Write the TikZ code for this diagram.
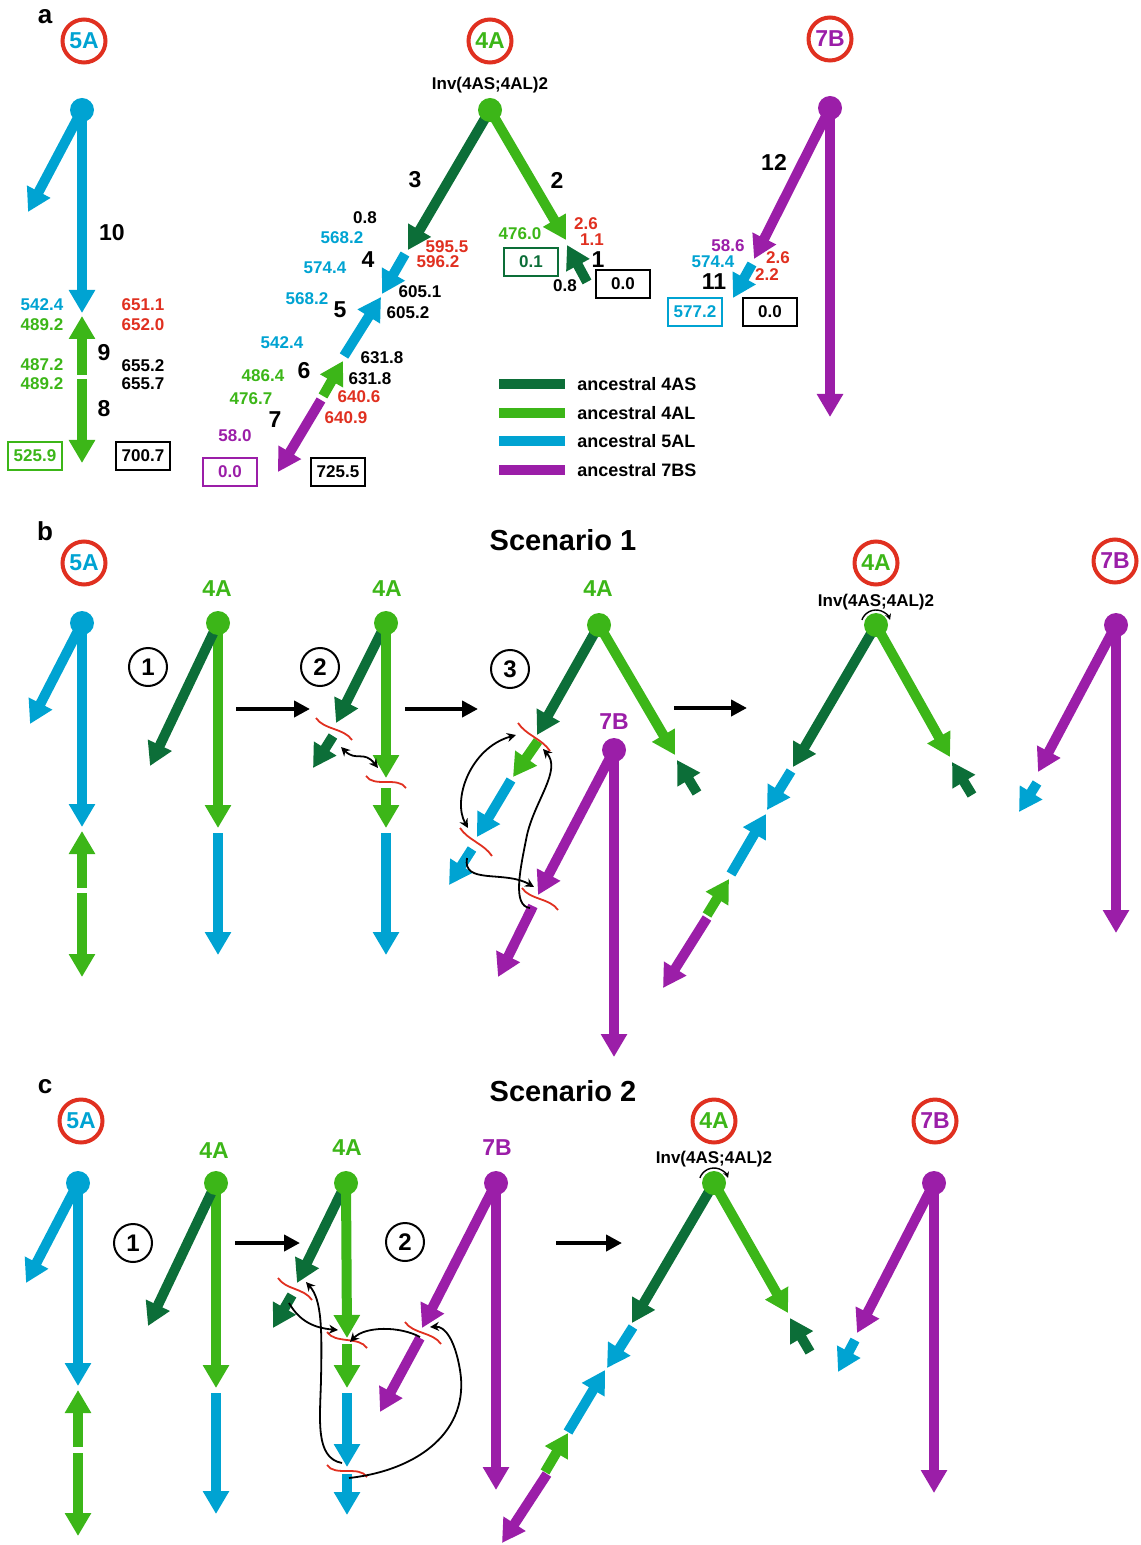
\documentclass[tikz,border=0pt]{standalone}
\usepackage{fontspec}
\setmainfont{Liberation Sans}
\usetikzlibrary{arrows.meta,shapes.geometric}
\definecolor{cAS}{RGB}{12,110,56}
\definecolor{cAL}{RGB}{60,182,24}
\definecolor{cBl}{RGB}{0,163,210}
\definecolor{cPu}{RGB}{155,30,168}
\definecolor{cRd}{RGB}{224,48,32}
\tikzset{
seg/.style = {line width=5pt, -{Triangle[width=12.5pt,length=11.5pt]}},
hub/.style = {circle, fill=#1, inner sep=0pt, minimum size=12pt},
chrom/.style = {circle, draw=cRd, line width=2pt, text=#1, inner sep=0pt, minimum size=21.5pt, font=\bfseries\fontsize{11.5}{12}\selectfont},
hdr/.style = {text=#1, inner sep=0pt, font=\bfseries\fontsize{11.5}{12}\selectfont},
num/.style = {text=#1, inner sep=0pt, font=\bfseries\fontsize{8.5}{9}\selectfont},
num/.default = black,
brn/.style = {inner sep=0pt, font=\bfseries\fontsize{11.5}{12}\selectfont},
numbox/.style = {draw=#1, text=#1, line width=0.6pt, inner sep=0pt, minimum width=27pt, minimum height=14pt, font=\bfseries\fontsize{8.5}{9}\selectfont},
numbox/.default = black,
inv/.style = {inner sep=0pt, font=\bfseries\fontsize{8.5}{9}\selectfont},
plabel/.style = {inner sep=0pt, font=\bfseries\fontsize{13}{13}\selectfont},
scen/.style = {inner sep=0pt, font=\bfseries\fontsize{14.5}{15}\selectfont},
stepno/.style = {circle, draw, line width=1pt, inner sep=0pt, minimum size=19pt, font=\bfseries\fontsize{12}{12}\selectfont},
keyline/.style = {line width=5pt},
keytxt/.style = {anchor=west, inner sep=0pt, font=\bfseries\fontsize{9}{9}\selectfont},
flow/.style = {line width=2pt, -{Triangle[width=8pt,length=8pt]}},
link/.style = {line width=0.9pt, -{Stealth[length=4.5pt,width=4.5pt]}},
link2/.style = {line width=0.9pt, {Stealth[length=4.5pt,width=4.5pt]}-{Stealth[length=4.5pt,width=4.5pt]}},
spin/.style = {line width=0.7pt, -{Stealth[length=3pt,width=3pt]}},
brk/.style = {cRd, line width=0.9pt},
}
\newcommand{\brk}[3]{\draw[brk,shift={(#1)}] (-#2,-#3) .. controls +(8,12) and +(-8,-12) .. (#2,#3);}

\begin{document}
\begin{tikzpicture}[x=0.5pt,y=-0.5pt]
\useasboundingbox (0,0) rectangle (1140,1545);

% a
\node[plabel] (la) at (45,17) {a};
\node[chrom=cBl] (c5a) at (84,41) {5A};
\coordinate (h5a) at (82,110);
\draw[seg,cBl] (h5a) -- (82,313);
\draw[seg,cBl] (h5a) -- (28,212);
\draw[seg,cAL] (82,375) -- (82,316);
\draw[seg,cAL] (82,379) -- (82,463);
\node[hub=cBl] (d5a) at (h5a) {};
\node[brn] (n10) at (112,233) {10};
\node[num=cBl] (a1) at (42,305) {542.4};
\node[num=cAL] (a2) at (42,325) {489.2};
\node[num=cRd] (a3) at (143,305) {651.1};
\node[num=cRd] (a4) at (143,325) {652.0};
\node[brn] (n9) at (104,353) {9};
\node[num=cAL] (a5) at (42,365) {487.2};
\node[num=cAL] (a6) at (42,384) {489.2};
\node[num] (a7) at (143,366) {655.2};
\node[num] (a8) at (143,384) {655.7};
\node[brn] (n8) at (104,409) {8};
\node[numbox=cAL] (b1) at (35,456) {525.9};
\node[numbox] (b2) at (143,456) {700.7};

\node[chrom=cAL] (c4a) at (490,41) {4A};
\node[inv] (inv4a) at (490,85) {Inv(4AS;4AL)2};
\coordinate (h4a) at (490,110);
\draw[seg,cAS] (h4a) -- (408,250);
\draw[seg,cAL] (h4a) -- (566,240);
\draw[seg,cAS] (587,282) -- (567,245);
\draw[seg,cBl] (405,254) -- (382,294);
\draw[seg,cBl] (344,356) -- (381,297);
\draw[seg,cAL] (323,396) -- (343,361);
\draw[seg,cPu] (321,400) -- (278,472);
\node[hub=cAL] (d4a) at (h4a) {};
\node[brn] (n3) at (415,180) {3};
\node[brn] (n2) at (557,180) {2};
\node[num] (a9) at (365,218) {0.8};
\node[num=cBl] (a10) at (342,238) {568.2};
\node[num=cRd] (a11) at (447,247) {595.5};
\node[num=cRd] (a12) at (438,262) {596.2};
\node[brn] (n4) at (368,260) {4};
\node[num=cBl] (a13) at (325,268) {574.4};
\node[num] (a14) at (420,292) {605.1};
\node[num=cBl] (a15) at (307,299) {568.2};
\node[brn] (n5) at (340,310) {5};
\node[num] (a16) at (408,313) {605.2};
\node[num=cBl] (a17) at (282,343) {542.4};
\node[num] (a18) at (382,358) {631.8};
\node[brn] (n6) at (304,371) {6};
\node[num=cAL] (a19) at (263,376) {486.4};
\node[num] (a20) at (370,379) {631.8};
\node[num=cAL] (a21) at (251,399) {476.7};
\node[num=cRd] (a22) at (359,397) {640.6};
\node[brn] (n7) at (275,420) {7};
\node[num=cRd] (a23) at (346,418) {640.9};
\node[num=cPu] (a24) at (235,436) {58.0};
\node[numbox=cPu] (b3) at (230,472) {0.0};
\node[numbox] (b4) at (338,472) {725.5};
\node[num=cAL] (a25) at (520,234) {476.0};
\node[numbox=cAS] (b5) at (531,262) {0.1};
\node[num=cRd] (a26) at (586,224) {2.6};
\node[num=cRd] (a27) at (592,240) {1.1};
\node[brn] (n1) at (598,260) {1};
\node[num] (a28) at (565,286) {0.8};
\node[numbox] (b6) at (623,284) {0.0};

\draw[keyline,cAS] (499,384) -- (565,384);
\draw[keyline,cAL] (499,413) -- (565,413);
\draw[keyline,cBl] (499,441) -- (565,441);
\draw[keyline,cPu] (499,470) -- (565,470);
\node[keytxt] (k1) at (577,384) {ancestral 4AS};
\node[keytxt] (k2) at (577,413) {ancestral 4AL};
\node[keytxt] (k3) at (577,441) {ancestral 5AL};
\node[keytxt] (k4) at (577,470) {ancestral 7BS};

\node[chrom=cPu] (c7a) at (830,39) {7B};
\coordinate (h7a) at (830,108);
\draw[seg,cPu] (h7a) -- (830,417);
\draw[seg,cPu] (h7a) -- (754,259);
\draw[seg,cBl] (752,264) -- (733,298);
\node[hub=cPu] (d7a) at (h7a) {};
\node[brn] (n12) at (774,162) {12};
\node[num=cPu] (a29) at (728,246) {58.6};
\node[num=cBl] (a30) at (713,262) {574.4};
\node[num=cRd] (a31) at (778,258) {2.6};
\node[num=cRd] (a32) at (767,275) {2.2};
\node[brn] (n11) at (714,282) {11};
\node[numbox=cBl] (b7) at (695,312) {577.2};
\node[numbox] (b8) at (770,312) {0.0};

% b
\node[plabel] (lb) at (45,531) {b};
\node[scen] (s1) at (563,540) {Scenario 1};
\node[chrom=cBl] (c5b) at (84,563) {5A};
\coordinate (h5b) at (82,623);
\draw[seg,cBl] (h5b) -- (82,827);
\draw[seg,cBl] (h5b) -- (30,724);
\draw[seg,cAL] (82,888) -- (82,831);
\draw[seg,cAL] (82,893) -- (82,977);
\node[hub=cBl] (d5b) at (h5b) {};

\node[stepno] (st1b) at (148,667) {1};
\node[hdr=cAL] (t1b) at (217,589) {4A};
\coordinate (h1b) at (218,623);
\draw[seg,cAL] (h1b) -- (218,828);
\draw[seg,cAS] (h1b) -- (150,766);
\draw[seg,cBl] (218,833) -- (218,955);
\node[hub=cAL] (d1b) at (h1b) {};
\draw[flow] (236,709) -- (310,709);

\node[stepno] (st2b) at (320,667) {2};
\node[hdr=cAL] (t2b) at (387,589) {4A};
\coordinate (h2b) at (386,623);
\draw[seg,cAS] (h2b) -- (336,723);
\draw[seg,cAS] (333,736) -- (313,768);
\draw[seg,cAL] (h2b) -- (386,778);
\draw[seg,cAL] (386,788) -- (386,828);
\draw[seg,cBl] (386,833) -- (386,955);
\node[hub=cAL] (d2b) at (h2b) {};
\brk{334,729}{18}{11}
\brk{386,782}{20}{6}
\draw[link2] (341,747) .. controls (356,762) and (364,750) .. (378,768);
\draw[flow] (405,709) -- (478,709);

\node[stepno] (st3b) at (510,669) {3};
\node[hdr=cAL] (t3b) at (598,589) {4A};
\coordinate (h3b) at (599,625);
\draw[seg,cAL] (h3b) -- (675,755);
\draw[seg,cAS] (697,793) -- (677,760);
\draw[seg,cAS] (h3b) -- (537,735);
\draw[seg,cAL] (538,741) -- (513,777);
\draw[seg,cBl] (511,780) -- (477,837);
\draw[seg,cBl] (472,849) -- (449,885);
\node[hdr=cPu] (t7b) at (614,722) {7B};
\coordinate (h7b) at (614,750);
\draw[seg,cPu] (h7b) -- (614,1057);
\draw[seg,cPu] (h7b) -- (538,895);
\draw[seg,cPu] (533,906) -- (498,977);
\node[hub=cAL] (d3b) at (h3b) {};
\node[hub=cPu] (d7b) at (h7b) {};
\brk{534,737}{16}{14}
\brk{476,842}{16}{14}
\brk{540,899}{18}{11}
\draw[link2] (516,735) .. controls (470,748) and (452,800) .. (468,828);
\draw[link] (467,858) .. controls (462,885) and (505,870) .. (534,887);
\draw[link] (530,908) .. controls (512,906) and (520,870) .. (527,835) .. controls (535,800) and (562,770) .. (543,749);
\draw[flow] (674,708) -- (747,708);

\node[chrom=cAL] (c4b) at (876,563) {4A};
\node[inv] (inv4b) at (876,602) {Inv(4AS;4AL)2};
\coordinate (h4b) at (876,625);
\draw[seg,cAL] (h4b) -- (950,757);
\draw[seg,cAS] (972,795) -- (952,762);
\draw[seg,cAS] (h4b) -- (793,767);
\draw[seg,cBl] (791,771) -- (767,810);
\draw[seg,cBl] (731,874) -- (766,814);
\draw[seg,cAL] (707,915) -- (729,879);
\draw[seg,cPu] (707,918) -- (663,988);
\node[hub=cAL] (d4b) at (h4b) {};
\draw[spin] ([shift={(200:15)}]h4b) arc[start angle=200, end angle=340, radius=15];

\node[chrom=cPu] (c7b) at (1115,561) {7B};
\coordinate (h7bb) at (1116,625);
\draw[seg,cPu] (h7bb) -- (1116,933);
\draw[seg,cPu] (h7bb) -- (1038,772);
\draw[seg,cBl] (1037,783) -- (1019,812);
\node[hub=cPu] (d7bb) at (h7bb) {};

% c
\node[plabel] (lc) at (45,1087) {c};
\node[scen] (s2) at (563,1091) {Scenario 2};
\node[chrom=cBl] (c5c) at (81,1121) {5A};
\coordinate (h5c) at (78,1183);
\draw[seg,cBl] (h5c) -- (78,1386);
\draw[seg,cBl] (h5c) -- (26,1283);
\draw[seg,cAL] (78,1447) -- (78,1390);
\draw[seg,cAL] (78,1453) -- (78,1536);
\node[hub=cBl] (d5c) at (h5c) {};

\node[stepno] (st1c) at (133,1243) {1};
\node[hdr=cAL] (t1c) at (214,1151) {4A};
\coordinate (h1c) at (216,1183);
\draw[seg,cAL] (h1c) -- (216,1388);
\draw[seg,cAS] (h1c) -- (148,1326);
\draw[seg,cBl] (216,1393) -- (216,1514);
\node[hub=cAL] (d1c) at (h1c) {};
\draw[flow] (235,1243) -- (300,1243);

\node[stepno] (st2c) at (405,1242) {2};
\node[hdr=cAL] (t2c) at (347,1148) {4A};
\coordinate (h2c) at (346,1183);
\draw[seg,cAS] (h2c) -- (297,1283);
\draw[seg,cAS] (292,1295) -- (273,1328);
\draw[seg,cAL] (h2c) -- (347,1338);
\draw[seg,cAL] (347,1344) -- (347,1388);
\draw[seg,cBl] (347,1393) -- (347,1467);
\draw[seg,cBl] (347,1474) -- (347,1515);
\node[hub=cAL] (d2c) at (h2c) {};
\node[hdr=cPu] (t7c) at (497,1148) {7B};
\coordinate (h7c) at (496,1183);
\draw[seg,cPu] (h7c) -- (496,1490);
\draw[seg,cPu] (h7c) -- (422,1328);
\draw[seg,cPu] (420,1338) -- (380,1412);
\node[hub=cPu] (d7c) at (h7c) {};
\brk{295,1289}{17}{11}
\brk{347,1340}{20}{8}
\brk{423,1333}{18}{11}
\brk{347,1471}{20}{6}
\draw[link] (289,1303) .. controls (300,1322) and (315,1328) .. (338,1330);
\draw[link] (342,1463) .. controls (315,1458) and (320,1420) .. (321,1380) .. controls (322,1330) and (322,1300) .. (306,1282);
\draw[link] (420,1337) .. controls (400,1326) and (365,1326) .. (350,1342);
\draw[link] (349,1478) .. controls (420,1470) and (470,1430) .. (460,1370) .. controls (455,1340) and (445,1326) .. (430,1327);
\draw[flow] (556,1243) -- (622,1243);

\node[chrom=cAL] (c4c) at (714,1121) {4A};
\node[inv] (inv4c) at (714,1159) {Inv(4AS;4AL)2};
\coordinate (h4c) at (714,1183);
\draw[seg,cAL] (h4c) -- (788,1313);
\draw[seg,cAS] (810,1352) -- (790,1318);
\draw[seg,cAS] (h4c) -- (632,1323);
\draw[seg,cBl] (633,1327) -- (607,1368);
\draw[seg,cBl] (568,1432) -- (605,1370);
\draw[seg,cAL] (545,1472) -- (568,1433);
\draw[seg,cPu] (547,1474) -- (502,1543);
\node[hub=cAL] (d4c) at (h4c) {};
\draw[spin] ([shift={(200:15)}]h4c) arc[start angle=200, end angle=340, radius=15];

\node[chrom=cPu] (c7c) at (935,1121) {7B};
\coordinate (h7cc) at (934,1183);
\draw[seg,cPu] (h7cc) -- (934,1493);
\draw[seg,cPu] (h7cc) -- (857,1333);
\draw[seg,cBl] (855,1340) -- (838,1372);
\node[hub=cPu] (d7cc) at (h7cc) {};
\end{tikzpicture}
\end{document}
